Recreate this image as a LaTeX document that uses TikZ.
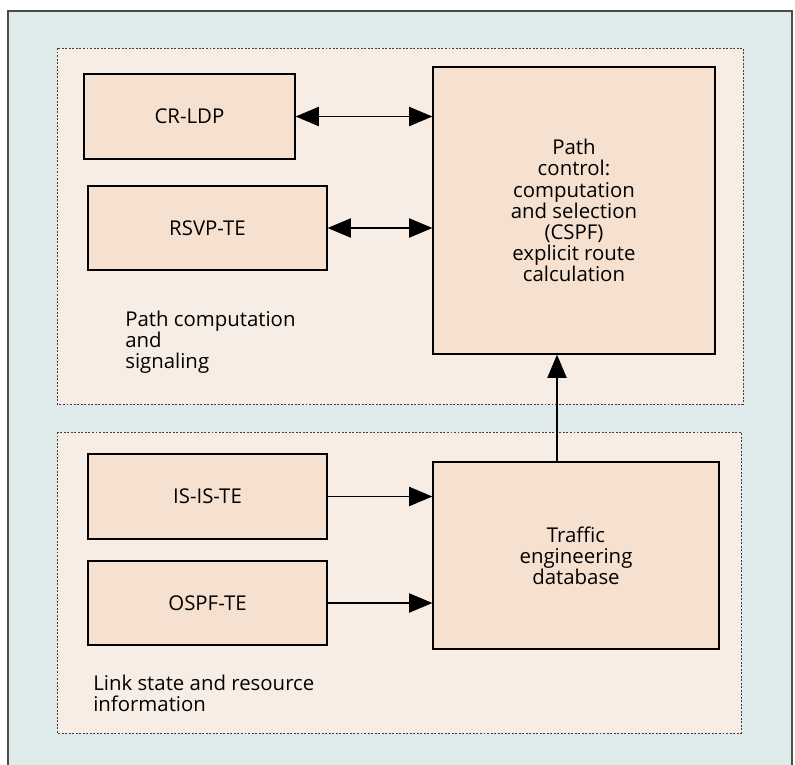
\documentclass[tikz,border=0pt]{standalone}
\usepackage{fontspec}
\setmainfont{Open Sans}
\usepackage{tikz}
\usetikzlibrary{arrows.meta,positioning}
\definecolor{outerbg}{HTML}{DFEBEB}
\definecolor{zonebg}{HTML}{F7EDE5}
\definecolor{boxbg}{HTML}{F6E1D0}

\begin{document}
\begin{tikzpicture}[>={Triangle[length=0.58cm,width=0.48cm]}, font=\fontsize{14.5}{15}\selectfont,
  box/.style={draw, fill=boxbg, line width=0.9pt, align=center, inner sep=2pt},
  zone/.style={draw=black!75, fill=zonebg, line width=0.7pt, dash pattern=on 1.4pt off 1.1pt},
  note/.style={anchor=north west, align=left, inner sep=0pt},
  link/.style={line width=0.9pt}]
  \useasboundingbox (0,0) rectangle (19.875,-19.125);
  % background and the two dotted zones
  \draw[fill=outerbg, draw=black!70, line width=0.9pt] (0.2,-0.275) rectangle (19.8,-19.6);
  \draw[zone] (1.425,-1.2) rectangle (18.575,-10.1);
  \draw[zone] (1.425,-10.8) rectangle (18.525,-18.325);

  % Path computation and signaling
  \node[box, minimum width=5.275cm, minimum height=2.125cm] (crldp) at (4.7375,-2.9125) {CR-LDP};
  \node[box, minimum width=5.975cm, minimum height=2.1cm] (rsvp) at (5.1875,-5.7) {RSVP-TE};
  \node[box, minimum width=7.05cm, minimum height=7.175cm] (pc) at (14.35,-5.2625)
    {Path\\control:\\computation\\and selection\\(CSPF)\\explicit route\\calculation};
  \node[note] (sig) at (3.125,-7.775) {Path computation\\and\\signaling};

  % Link state and resource information
  \node[box, minimum width=5.975cm, minimum height=2.125cm] (isis) at (5.1875,-12.4125) {IS-IS-TE};
  \node[box, minimum width=5.975cm, minimum height=2.1cm] (ospf) at (5.1875,-15.075) {OSPF-TE};
  \node[box, minimum width=7.15cm, minimum height=4.675cm] (ted) at (14.4,-13.8875)
    {Traffic\\engineering\\database};
  \node[note] (lsr) at (2.325,-16.875) {Link state and resource\\information};

  \draw[link, <->] (crldp.east) -- (crldp.east -| pc.west);
  \draw[link, <->] (rsvp.east) -- (rsvp.east -| pc.west);
  \draw[link, ->] (isis.east) -- (isis.east -| ted.west);
  \draw[link, ->] (ospf.east) -- (ospf.east -| ted.west);
  \draw[link, ->] ([xshift=-0.475cm]ted.north) -- ([xshift=-0.475cm]ted.north |- pc.south);
\end{tikzpicture}
\end{document}
